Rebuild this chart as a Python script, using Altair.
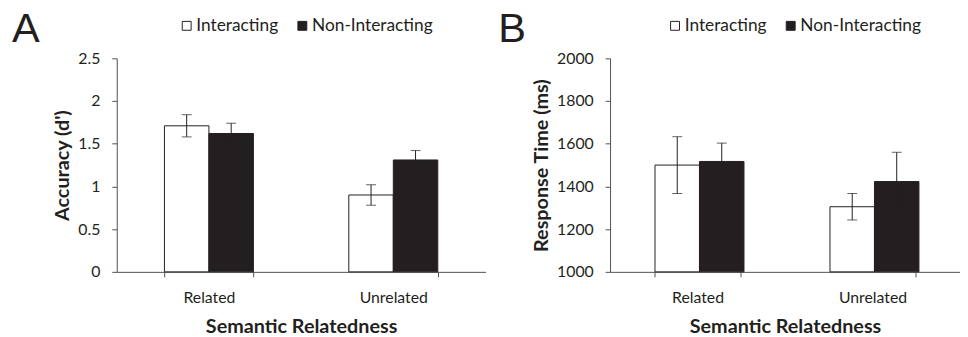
import altair as alt
import pandas as pd

# ---- data ----
categories = ["Related", "Unrelated"]
conditions = ["Interacting", "Non-Interacting"]
row_cat = ["Related", "Related", "Unrelated", "Unrelated"]
row_cond = ["Interacting", "Non-Interacting", "Interacting", "Non-Interacting"]
acc_mean = [1.71, 1.62, 0.90, 1.31]
acc_err = [0.13, 0.12, 0.12, 0.11]
rt_mean = [1500, 1517, 1305, 1423]
rt_err = [133, 86, 62, 137]
acc_ticks = [0, 0.5, 1, 1.5, 2, 2.5]
rt_ticks = [1000, 1200, 1400, 1600, 1800, 2000]

INK = "#231f20"
AXC = "#505050"
FONT = "Lato"


def make_df(means, errs):
    return pd.DataFrame({
        "cat": row_cat,
        "cond": row_cond,
        "mean": means,
        "lo": [m - e for m, e in zip(means, errs)],
        "hi": [m + e for m, e in zip(means, errs)],
    })


def panel(df, letter, ytitle, ticks, fmt, width, pad_inner, title_dx, leg_x):
    dom = [ticks[0], ticks[-1]]
    yscale = alt.Scale(domain=dom, nice=False, zero=False)
    yaxis = alt.Axis(values=ticks, format=fmt, title=ytitle)
    x = alt.X("cat:N", sort=categories,
              scale=alt.Scale(paddingInner=pad_inner, paddingOuter=pad_inner / 2),
              axis=alt.Axis(title="Semantic Relatedness", tickBand="extent",
                            labelAngle=0))
    xo = alt.XOffset("cond:N", sort=conditions,
                     scale=alt.Scale(paddingInner=0, paddingOuter=0))
    base = alt.Chart(df).encode(x=x, xOffset=xo)
    bars = base.mark_bar(stroke=INK, strokeWidth=1).encode(
        y=alt.Y("mean:Q", scale=yscale, axis=yaxis),
        y2=alt.datum(dom[0]),
        fill=alt.Fill("cond:N", sort=conditions,
                      scale=alt.Scale(domain=conditions, range=["white", INK]),
                      legend=alt.Legend(orient="none", legendX=leg_x, legendY=-42,
                                        direction="horizontal", title=None)),
    )
    rules = base.mark_rule(color=INK, strokeWidth=1).encode(
        y=alt.Y("lo:Q", scale=yscale, axis=yaxis), y2="hi:Q")
    cap_hi = base.mark_tick(color=INK, thickness=1, size=10).encode(
        y=alt.Y("hi:Q", scale=yscale, axis=yaxis))
    cap_lo = base.mark_tick(color=INK, thickness=1, size=10).encode(
        y=alt.Y("lo:Q", scale=yscale, axis=yaxis))
    return alt.layer(bars, rules, cap_hi, cap_lo).properties(
        width=width, height=216,
        title=alt.TitleParams(letter, anchor="start", frame="group", dx=title_dx,
                              dy=67, offset=0, baseline="alphabetic", fontSize=42,
                              fontWeight="normal", font="Liberation Sans", color=INK),
    )


pa = panel(make_df(acc_mean, acc_err), "A", "Accuracy (d')", acc_ticks, "~g",
           373, 0.5174, -106, 62)
pb = panel(make_df(rt_mean, rt_err), "B", "Response Time (ms)", rt_ticks, "d",
           354, 0.5138, -113, 57)

chart = alt.hconcat(pa, pb, spacing=13).resolve_legend(fill="independent").resolve_scale(
    fill="independent"
).properties(
    padding={"left": 4, "top": -2, "right": 0, "bottom": 0}
).configure_view(stroke=None).configure_axis(
    grid=False,
    domainColor=AXC,
    tickColor=AXC,
    tickSize=5,
    labelFont=FONT,
    labelFontSize=16,
    labelColor=INK,
    titleFont=FONT,
    titleFontSize=20,
    titleFontWeight="bold",
    titleColor=INK,
).configure_axisY(
    labelPadding=12, titlePadding=5
).configure_axisX(
    labelPadding=13, titlePadding=11
).configure_legend(
    symbolType="square", symbolSize=81, symbolStrokeColor=INK, symbolStrokeWidth=1,
    labelFont=FONT, labelFontSize=17.5, labelColor=INK, labelOffset=1,
    columnPadding=15, padding=0, symbolOffset=0
)

chart.save("out.html", embed_options={"renderer": "svg", "actions": False})
